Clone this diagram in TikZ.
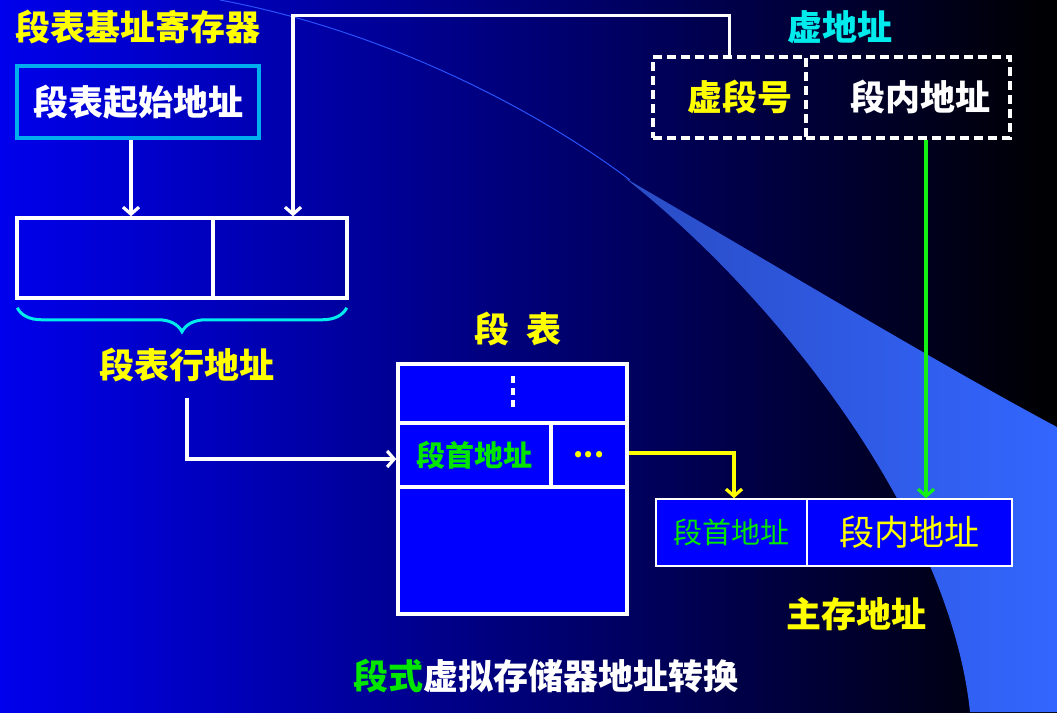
\documentclass[tikz,border=0pt]{standalone}
\usepackage{fontspec}
\setmainfont{Noto Sans CJK SC}
\usetikzlibrary{arrows.meta,decorations.pathreplacing}
\definecolor{bgblue}{RGB}{0,0,236}
\definecolor{midblue}{RGB}{0,0,168}
\definecolor{cellblue}{RGB}{0,0,255}
\definecolor{swooshlight}{RGB}{51,102,255}
\definecolor{swooshdark}{RGB}{42,76,196}
\definecolor{ttyellow}{RGB}{255,255,0}
\definecolor{ttcyan}{RGB}{0,235,235}
\definecolor{ttgreen}{RGB}{0,230,0}
\definecolor{lnkgreen}{RGB}{20,240,20}
\begin{document}
\begin{tikzpicture}[x=1pt,y=-1pt,
  every node/.style={text=white},
  big/.style={font=\fontsize{35}{40}\selectfont\bfseries},
  mid/.style={font=\fontsize{29}{34}\selectfont\bfseries},
  plainbig/.style={font=\fontsize{35}{40}\selectfont},
  plainmid/.style={font=\fontsize{29}{34}\selectfont},
  box/.style={draw=white,line width=3.5pt,inner sep=0pt},
  cell/.style={box,fill=cellblue},
  vcell/.style={box,dash pattern=on 9pt off 5pt},
  mcell/.style={draw=white,line width=1.6pt,fill=cellblue,inner sep=0pt},
  arr/.style={line width=3.2pt,-{Straight Barb[length=7pt,width=16pt]}}]
\useasboundingbox (0,0) rectangle (1057,712);
\shade[left color=bgblue,middle color=midblue,right color=black] (0,0) rectangle (1057,712);
\shade[left color=swooshdark,right color=swooshlight]
  (625,178) .. controls (800,280) and (950,370) .. (1057,427)
  -- (1057,712) -- (970,712) .. controls (950,520) and (780,300) .. cycle;
\draw[swooshlight!80!bgblue,line width=1pt] (220,0) .. controls (380,30) and (530,105) .. (630,180);

\node[big,text=ttyellow] (regtitle) at (138,27) {段表基址寄存器};
\node[big,draw=cyan,line width=3.5pt,minimum width=242pt,minimum height=72pt] (start) at (138,102) {段表起始地址};
\node[box,minimum width=196pt,minimum height=80pt] (reghi) at (115,258) {};
\node[box,minimum width=134pt,minimum height=80pt] (reglo) at (280,258) {};
\draw[ttcyan,line width=3pt,decorate,decoration={brace,mirror,amplitude=24pt}]
  ([shift={(2,8)}]reghi.south west) -- ([shift={(-2,8)}]reglo.south east);
\node[big,text=ttyellow] (rowaddr) at (187,365) {段表行地址};

\node[big,text=ttcyan] (vtitle) at (840,27) {虚地址};
\node[big,vcell,text=ttyellow,minimum width=153pt,minimum height=81pt] (vseg) at (729.5,97.5) {\hspace*{20pt}虚段号};
\node[big,vcell,minimum width=204pt,minimum height=81pt] (voff) at (908,97.5) {\hspace*{24pt}段内地址};

\node[big,text=ttyellow] (tabtitle) at (518,329) {段\hspace{0.5em}表};
\node[cell,minimum width=229pt,minimum height=59pt] (toprow) at (512.5,393.5) {};
\node[mid,cell,text=ttgreen,minimum width=153pt,minimum height=64pt] (segfirst) at (474.5,455) {段首地址};
\node[mid,cell,text=ttyellow,minimum width=76pt,minimum height=64pt] (segmore) at (589,455) {\raisebox{-4pt}{...}};
\node[cell,minimum width=229pt,minimum height=127pt] (botrow) at (512.5,550.5) {};
\draw[white,line width=4pt,dash pattern=on 7pt off 5pt] ([yshift=-14pt]toprow.north) -- ([yshift=15pt]toprow.south);

\node[plainmid,mcell,text=ttgreen,minimum width=151pt,minimum height=67pt] (memhead) at (731.5,532.5) {段首地址};
\node[plainbig,mcell,text=ttyellow,minimum width=205pt,minimum height=67pt] (memoff) at (909.5,532.5) {段内地址};
\node[big,text=ttyellow] (memtitle) at (856,614) {主存地址};

\draw[arr,white] ([xshift=-7pt]start.south) -- ([xshift=-7pt]start.south |- reghi.north);
\draw[arr,white] (vseg.north) -- ++(0,-40) -| ([xshift=13pt]reglo.north);
\draw[arr,white] ([yshift=-12pt]rowaddr.south) |- ([yshift=-4pt]segfirst.west);
\draw[arr,ttyellow] ([yshift=2pt]segmore.east) -| ([xshift=2.5pt]memhead.north);
\draw[arr,lnkgreen] ([xshift=18pt]voff.south) -- ([xshift=18pt]voff.south |- memoff.north);

\node[big] (caption) at (546,676) {\textcolor{ttgreen}{段式}虚拟存储器地址转换};
\end{tikzpicture}
\end{document}
